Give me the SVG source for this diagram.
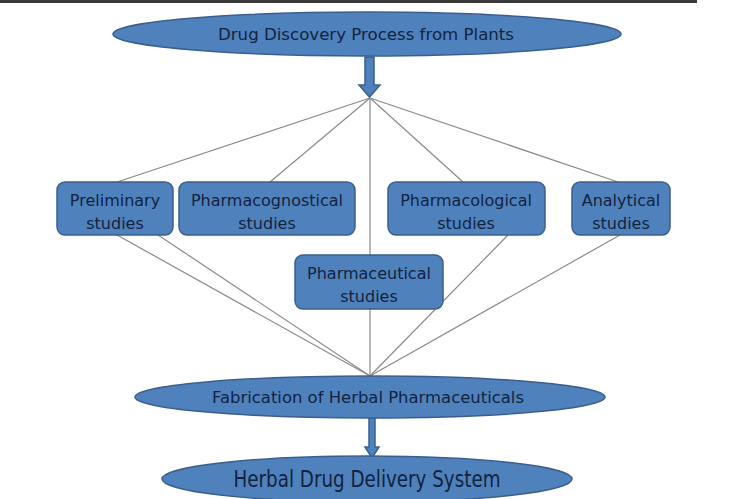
<svg xmlns="http://www.w3.org/2000/svg" width="750" height="499" viewBox="0 0 750 499">
<style>
.shape{fill:#4f81bd;stroke:#3a5f8c;stroke-width:1.5}
.t{font-family:"DejaVu Sans","Liberation Sans",sans-serif;fill:#13233f;text-anchor:middle}
.c{stroke:#8a8a8a;stroke-width:1.2;fill:none}
</style>
<rect x="0" y="0" width="750" height="499" fill="#ffffff"/>
<rect x="0" y="0" width="697" height="3" fill="#3a3a3a"/>
<g id="connectors">
<line class="c" x1="370" y1="98" x2="117" y2="182"/>
<line class="c" x1="370" y1="98" x2="270" y2="182"/>
<line class="c" x1="370" y1="98" x2="370" y2="255"/>
<line class="c" x1="370" y1="98" x2="463" y2="182"/>
<line class="c" x1="370" y1="98" x2="618" y2="182"/>
<line class="c" x1="117" y1="235" x2="370" y2="376"/>
<line class="c" x1="158" y1="235" x2="370" y2="376"/>
<line class="c" x1="370" y1="309" x2="370" y2="376"/>
<line class="c" x1="508" y1="235" x2="370" y2="376"/>
<line class="c" x1="620" y1="235" x2="370" y2="376"/>
<path class="shape" d="M365,57 L374,57 L374,85 L380,85 L369.5,97 L359,85 L365,85 Z"/>
<path class="shape" d="M369,418 L375,418 L375,447 L379,447 L372,458 L365,447 L369,447 Z"/>
</g>
<g id="top">
<ellipse class="shape" cx="367" cy="34" rx="254" ry="22"/>
<text class="t" x="366" y="40" font-size="16" textLength="296" lengthAdjust="spacingAndGlyphs">Drug Discovery Process from Plants</text>
</g>
<g id="preliminary">
<rect class="shape" x="57" y="182" width="116" height="53" rx="8"/>
<text class="t" x="115" y="206" font-size="16">Preliminary</text>
<text class="t" x="115" y="229" font-size="16">studies</text>
</g>
<g id="pharmacognostical">
<rect class="shape" x="179" y="182" width="176" height="53" rx="8"/>
<text class="t" x="267" y="206" font-size="16">Pharmacognostical</text>
<text class="t" x="267" y="229" font-size="16">studies</text>
</g>
<g id="pharmacological">
<rect class="shape" x="388" y="182" width="157" height="53" rx="8"/>
<text class="t" x="466" y="206" font-size="16">Pharmacological</text>
<text class="t" x="466" y="229" font-size="16">studies</text>
</g>
<g id="analytical">
<rect class="shape" x="572" y="182" width="98" height="53" rx="8"/>
<text class="t" x="621" y="206" font-size="16">Analytical</text>
<text class="t" x="621" y="229" font-size="16">studies</text>
</g>
<g id="pharmaceutical">
<rect class="shape" x="295" y="255" width="148" height="54" rx="8"/>
<text class="t" x="369" y="279" font-size="16">Pharmaceutical</text>
<text class="t" x="369" y="302" font-size="16">studies</text>
</g>
<g id="fabrication">
<ellipse class="shape" cx="370" cy="397" rx="235" ry="21"/>
<text class="t" x="368" y="403" font-size="16" textLength="312" lengthAdjust="spacingAndGlyphs">Fabrication of Herbal Pharmaceuticals</text>
</g>
<g id="delivery">
<ellipse class="shape" cx="367" cy="479" rx="205" ry="23"/>
<text class="t" x="367" y="487" font-size="23" textLength="267" lengthAdjust="spacingAndGlyphs">Herbal Drug Delivery System</text>
</g>
</svg>
